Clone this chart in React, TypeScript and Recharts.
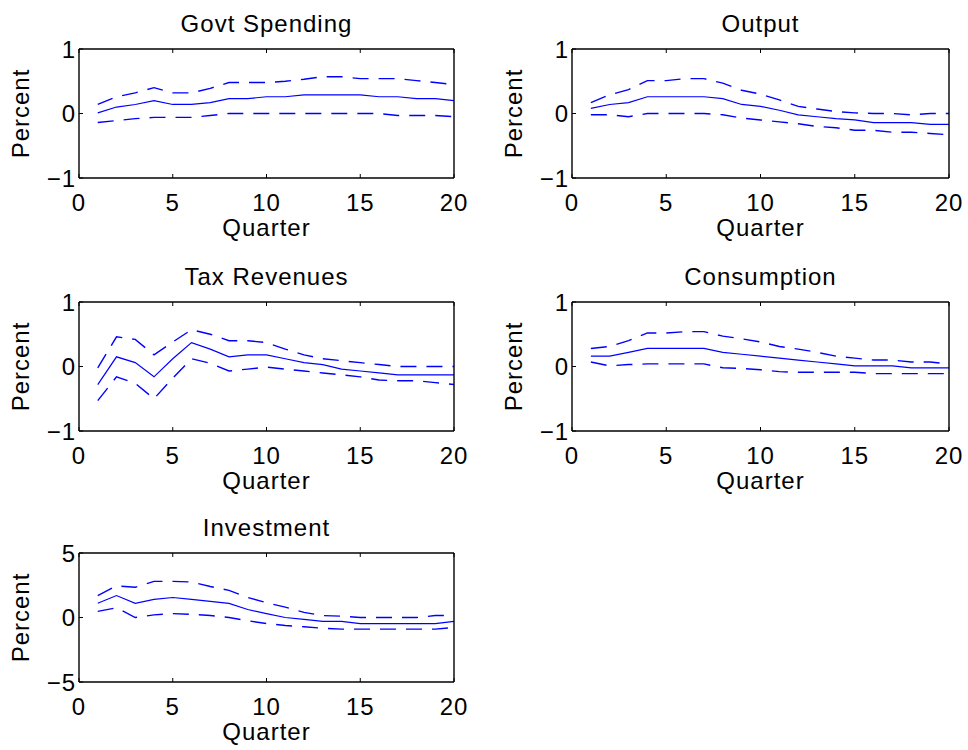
import React from 'react';
import { LineChart, Line, XAxis, YAxis } from 'recharts';

const quarters = [1, 2, 3, 4, 5, 6, 7, 8, 9, 10, 11, 12, 13, 14, 15, 16, 17, 18, 19, 20];
const xTicks = [0, 5, 10, 15, 20];

const govtMid = [0.01, 0.1, 0.14, 0.2, 0.14, 0.14, 0.17, 0.23, 0.23, 0.26, 0.26, 0.29, 0.29, 0.29, 0.29, 0.26, 0.26, 0.23, 0.23, 0.2];
const govtHi = [0.14, 0.26, 0.32, 0.4, 0.32, 0.32, 0.39, 0.48, 0.48, 0.48, 0.5, 0.53, 0.57, 0.57, 0.54, 0.54, 0.54, 0.51, 0.48, 0.45];
const govtLo = [-0.14, -0.11, -0.08, -0.06, -0.06, -0.06, -0.03, 0, 0, 0, 0, 0, 0, 0, 0, 0, -0.03, -0.03, -0.03, -0.05];

const outMid = [0.08, 0.14, 0.17, 0.26, 0.26, 0.26, 0.26, 0.23, 0.14, 0.11, 0.05, -0.02, -0.05, -0.08, -0.1, -0.14, -0.14, -0.14, -0.17, -0.17];
const outHi = [0.17, 0.29, 0.37, 0.51, 0.51, 0.54, 0.54, 0.47, 0.36, 0.3, 0.21, 0.11, 0.07, 0.03, 0.01, 0, 0, -0.02, 0, 0];
const outLo = [-0.02, -0.02, -0.05, 0, 0, 0, 0, -0.02, -0.07, -0.1, -0.13, -0.16, -0.2, -0.22, -0.26, -0.26, -0.29, -0.29, -0.31, -0.33];

const taxMid = [-0.28, 0.15, 0.06, -0.16, 0.12, 0.37, 0.27, 0.15, 0.18, 0.18, 0.12, 0.06, 0.03, -0.04, -0.07, -0.1, -0.13, -0.13, -0.13, -0.13];
const taxHi = [-0.02, 0.46, 0.42, 0.18, 0.38, 0.57, 0.5, 0.4, 0.4, 0.37, 0.27, 0.18, 0.12, 0.09, 0.06, 0.03, 0, 0, 0, 0];
const taxLo = [-0.53, -0.16, -0.26, -0.5, -0.18, 0.12, 0.05, -0.07, -0.04, -0.01, -0.04, -0.07, -0.1, -0.13, -0.16, -0.21, -0.22, -0.22, -0.25, -0.28];

const conMid = [0.16, 0.16, 0.22, 0.28, 0.28, 0.28, 0.28, 0.22, 0.19, 0.16, 0.13, 0.1, 0.07, 0.04, 0.01, 0.01, 0.01, -0.02, -0.02, -0.02];
const conHi = [0.28, 0.31, 0.4, 0.52, 0.52, 0.54, 0.54, 0.47, 0.43, 0.38, 0.31, 0.27, 0.22, 0.16, 0.13, 0.1, 0.1, 0.07, 0.07, 0.04];
const conLo = [0.07, 0.01, 0.03, 0.04, 0.04, 0.04, 0.04, -0.02, -0.03, -0.05, -0.08, -0.09, -0.09, -0.09, -0.09, -0.11, -0.11, -0.11, -0.11, -0.11];

const invMid = [1.1, 1.7, 1.1, 1.4, 1.55, 1.4, 1.25, 1.1, 0.62, 0.3, 0, -0.15, -0.3, -0.3, -0.47, -0.47, -0.47, -0.47, -0.47, -0.3];
const invHi = [1.7, 2.45, 2.35, 2.8, 2.8, 2.75, 2.4, 2.1, 1.55, 1.15, 0.8, 0.4, 0.15, 0.1, 0, 0, 0, 0, 0.15, 0.15];
const invLo = [0.47, 0.75, 0, 0.2, 0.3, 0.25, 0.15, 0, -0.25, -0.47, -0.62, -0.72, -0.83, -0.9, -0.9, -0.9, -0.9, -0.9, -0.9, -0.78];

const smallTicks = [-1, 0, 1];
const bigTicks = [-5, 0, 5];

const FONT = '"Liberation Sans", Arial, Helvetica, sans-serif';
const BLUE = '#0000ff';

const fmt = (v: number) => (v < 0 ? '\u2212' + Math.abs(v) : String(v));
const blank = () => '';

const build = (mid: number[], lo: number[], hi: number[]) =>
  quarters.map((q, i) => ({ q, mid: mid[i], lo: lo[i], hi: hi[i] }));

type PanelProps = {
  title: string;
  left: number;
  top: number;
  w: number;
  h: number;
  mid: number[];
  lo: number[];
  hi: number[];
  yTicks: number[];
};

const LM = 80;
const TM = 45;
const RM = 15;
const BM = 75;

function Panel({ title, left, top, w, h, mid, lo, hi, yTicks }: PanelProps) {
  const data = build(mid, lo, hi);
  const dom: [number, number] = [yTicks[0], yTicks[yTicks.length - 1]];
  const tickStyle = { fontSize: 24, fill: '#000', fontFamily: FONT };
  const axisLine = { stroke: '#000', strokeWidth: 1.4 };
  const tickLine = { stroke: '#000', strokeWidth: 1 };
  return (
    <div style={{ position: 'absolute', left: left - LM, top: top - TM }}>
      <LineChart
        width={w + LM + RM}
        height={h + TM + BM}
        data={data}
        margin={{ top: TM - 1, right: RM - 1, bottom: 0, left: 0 }}
      >
        <XAxis
          dataKey="q"
          type="number"
          domain={[0, 20]}
          ticks={xTicks}
          allowDataOverflow
          height={BM}
          tickSize={-4}
          tickMargin={20}
          tick={tickStyle}
          axisLine={axisLine}
          tickLine={tickLine}
          label={{ value: 'Quarter', position: 'insideBottom', offset: 17, fontSize: 24, fill: '#000', fontFamily: FONT }}
        />
        <XAxis
          xAxisId="top"
          orientation="top"
          dataKey="q"
          type="number"
          domain={[0, 20]}
          ticks={xTicks}
          height={1}
          tickSize={-4}
          tickFormatter={blank}
          axisLine={axisLine}
          tickLine={tickLine}
          label={{ value: title, position: 'top', offset: 16, fontSize: 24, fill: '#000', fontFamily: FONT }}
        />
        <YAxis
          type="number"
          domain={dom}
          ticks={yTicks}
          allowDataOverflow
          width={LM}
          tickSize={-4}
          tickMargin={7}
          tick={tickStyle}
          tickFormatter={fmt}
          axisLine={axisLine}
          tickLine={tickLine}
          label={{ value: 'Percent', angle: -90, position: 'insideLeft', offset: 21, fontSize: 24, fill: '#000', fontFamily: FONT, style: { textAnchor: 'middle' } }}
        />
        <YAxis
          yAxisId="right"
          orientation="right"
          type="number"
          domain={dom}
          ticks={yTicks}
          width={1}
          tickSize={-4}
          tickFormatter={blank}
          axisLine={axisLine}
          tickLine={tickLine}
        />
        <Line dataKey="hi" stroke={BLUE} strokeWidth={1.4} strokeDasharray="16 10" dot={false} isAnimationActive={false} />
        <Line dataKey="mid" stroke={BLUE} strokeWidth={1.2} dot={false} isAnimationActive={false} />
        <Line dataKey="lo" stroke={BLUE} strokeWidth={1.4} strokeDasharray="16 10" dot={false} isAnimationActive={false} />
      </LineChart>
    </div>
  );
}

export default function App() {
  return (
    <div
      style={{
        position: 'absolute',
        left: 0,
        top: 0,
        width: 968,
        height: 750,
        background: '#fff',
        fontFamily: FONT,
        letterSpacing: '1px',
      }}
    >
      <Panel title="Govt Spending" left={79} top={49} w={375} h={129} mid={govtMid} lo={govtLo} hi={govtHi} yTicks={smallTicks} />
      <Panel title="Output" left={572} top={49} w={377} h={129} mid={outMid} lo={outLo} hi={outHi} yTicks={smallTicks} />
      <Panel title="Tax Revenues" left={79} top={302} w={375} h={129} mid={taxMid} lo={taxLo} hi={taxHi} yTicks={smallTicks} />
      <Panel title="Consumption" left={572} top={302} w={377} h={129} mid={conMid} lo={conLo} hi={conHi} yTicks={smallTicks} />
      <Panel title="Investment" left={79} top={553} w={375} h={129} mid={invMid} lo={invLo} hi={invHi} yTicks={bigTicks} />
    </div>
  );
}
